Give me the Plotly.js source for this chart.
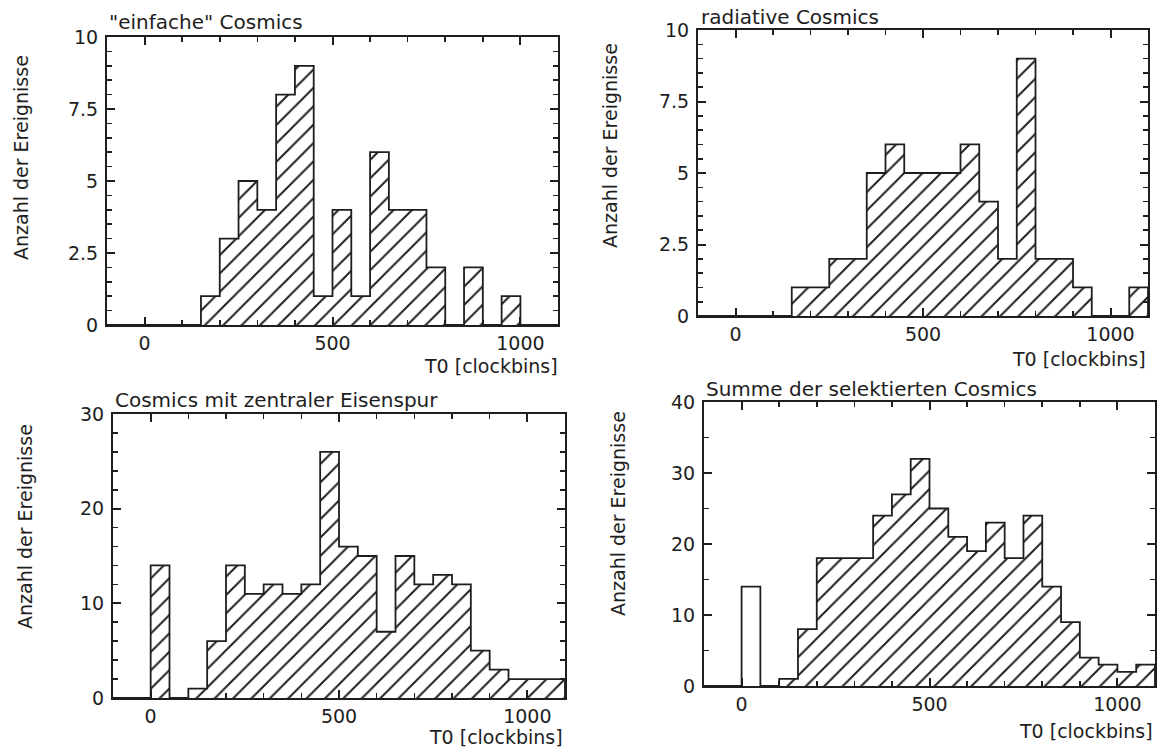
<!DOCTYPE html>
<html>
<head>
<meta charset="utf-8">
<script src="https://cdn.plot.ly/plotly-3.0.1.min.js"></script>
<style>html,body{margin:0;padding:0;background:#fff;}#chart{width:1162px;height:748px;}</style>
</head>
<body>
<div id="chart"></div>
<script>
// lower edges of the 50-clockbin bins
const binLow = [-100, -50, 0, 50, 100, 150, 200, 250, 300, 350, 400, 450, 500, 550, 600, 650, 700, 750, 800, 850, 900, 950, 1000, 1050];
const binWidth = 50;

const einfache  = [0, 0, 0, 0, 0, 1, 3, 5, 4, 8, 9, 1, 4, 1, 6, 4, 4, 2, 0, 2, 0, 1, 0, 0];
const radiative = [0, 0, 0, 0, 0, 1, 1, 2, 2, 5, 6, 5, 5, 5, 6, 4, 2, 9, 2, 2, 1, 0, 0, 1];
const eisenspur = [0, 0, 14, 0, 1, 6, 14, 11, 12, 11, 12, 26, 16, 15, 7, 15, 12, 13, 12, 5, 3, 2, 2, 2];
const summe     = [0, 0, 14, 0, 1, 8, 18, 18, 18, 24, 27, 32, 25, 21, 19, 23, 18, 24, 14, 9, 4, 3, 2, 3];
// bins of the sum drawn without hatching (lower edge)
const summeOpenBins = [0];

const panelTitles = ['"einfache" Cosmics', 'radiative Cosmics', 'Cosmics mit zentraler Eisenspur', 'Summe der selektierten Cosmics'];
const yTitle = 'Anzahl der Ereignisse';
const xTitle = 'T0 [clockbins]';

const INK = '#1e1e1e';
const FONT = 'DejaVu Sans, Verdana, sans-serif';
const W = 1162, H = 748;

// panel frames in pixels: [left, right, top, bottom]
const frames = [
  [107, 558, 37, 325],
  [698, 1148, 30, 316],
  [113, 565, 414, 698],
  [704, 1155, 402, 686]
];
const yRanges = [[0, 10], [0, 10], [0, 30], [0, 40]];
const yMajor = [2.5, 2.5, 10, 10];
const yMinor = [0.5, 0.5, 2, 5];

const series = [einfache, radiative, eisenspur, summe];
const traces = [];
const layout = {
  width: W, height: H,
  margin: {l: 0, r: 0, t: 0, b: 0},
  paper_bgcolor: '#ffffff', plot_bgcolor: 'rgba(0,0,0,0)',
  showlegend: false, bargap: 0,
  font: {family: FONT, color: INK, size: 19},
  annotations: []
};

series.forEach((vals, k) => {
  const ax = k === 0 ? '' : String(k + 1);
  const xa = 'x' + ax, ya = 'y' + ax;
  const centers = binLow.map(b => b + binWidth / 2);
  const shapes = binLow.map(b => (k === 3 && summeOpenBins.includes(b)) ? '' : '/');
  traces.push({
    type: 'bar', x: centers, y: vals, width: binWidth, xaxis: xa, yaxis: ya,
    marker: {color: '#ffffff', line: {width: 0},
      pattern: {shape: shapes, fgcolor: INK, bgcolor: '#ffffff', size: 13, solidity: 0.15, fillmode: 'replace'}},
    hoverinfo: 'skip'
  });
  // step outline of the histogram
  const xs = [binLow[0]], ys = [0];
  binLow.forEach((b, i) => { xs.push(b); ys.push(vals[i]); });
  const last = binLow[binLow.length - 1] + binWidth;
  xs.push(last); ys.push(vals[vals.length - 1]);
  xs.push(last); ys.push(0);
  traces.push({
    type: 'scatter', mode: 'lines', x: xs, y: ys, xaxis: xa, yaxis: ya,
    line: {shape: 'hv', color: INK, width: 1.8}, hoverinfo: 'skip'
  });

  const [l, r, t, b] = frames[k];
  const common = {
    showline: true, linecolor: INK, linewidth: 2, mirror: 'allticks',
    ticks: 'inside', tickcolor: INK, tickwidth: 2, ticklen: 8,
    showgrid: false, zeroline: false, layer: 'above traces',
    tickfont: {family: FONT, size: 19, color: INK}, fixedrange: true
  };
  layout['xaxis' + ax] = Object.assign({}, common, {
    domain: [l / W, r / W], anchor: ya, range: [-100, 1100],
    tickmode: 'linear', tick0: 0, dtick: 500, ticklabelstandoff: 0,
    minor: {tickmode: 'linear', tick0: 0, dtick: 100, ticks: 'inside', ticklen: 5, tickcolor: INK, tickwidth: 1.6, showgrid: false}
  });
  layout['yaxis' + ax] = Object.assign({}, common, {
    domain: [1 - b / H, 1 - t / H], anchor: xa, range: yRanges[k],
    tickmode: 'linear', tick0: 0, dtick: yMajor[k], ticklabelstandoff: 3,
    minor: {tickmode: 'linear', tick0: 0, dtick: yMinor[k], ticks: 'inside', ticklen: 5, tickcolor: INK, tickwidth: 1.6, showgrid: false}
  });
});

// text placements in pixels
const titlePos = [[107, 22], [699, 17], [113, 400], [704, 389]];
const yTitlePos = [[21, 158], [610, 146], [25, 527], [618, 514]];
const xTitlePos = [[560, 366], [1148, 359], [565, 737], [1155, 731]];
for (let k = 0; k < 4; k++) {
  layout.annotations.push({xref: 'paper', yref: 'paper', x: titlePos[k][0] / W, y: 1 - titlePos[k][1] / H,
    xanchor: 'left', yanchor: 'middle', showarrow: false, text: panelTitles[k], font: {family: FONT, size: 20, color: INK}});
  layout.annotations.push({xref: 'paper', yref: 'paper', x: yTitlePos[k][0] / W, y: 1 - yTitlePos[k][1] / H,
    xanchor: 'center', yanchor: 'middle', showarrow: false, textangle: -90, text: yTitle, font: {family: FONT, size: 19, color: INK}});
  layout.annotations.push({xref: 'paper', yref: 'paper', x: xTitlePos[k][0] / W, y: 1 - xTitlePos[k][1] / H,
    xanchor: 'right', yanchor: 'middle', showarrow: false, text: xTitle, font: {family: FONT, size: 19, color: INK}});
}

Plotly.newPlot('chart', traces, layout, {staticPlot: true, displayModeBar: false});
</script>
</body>
</html>
